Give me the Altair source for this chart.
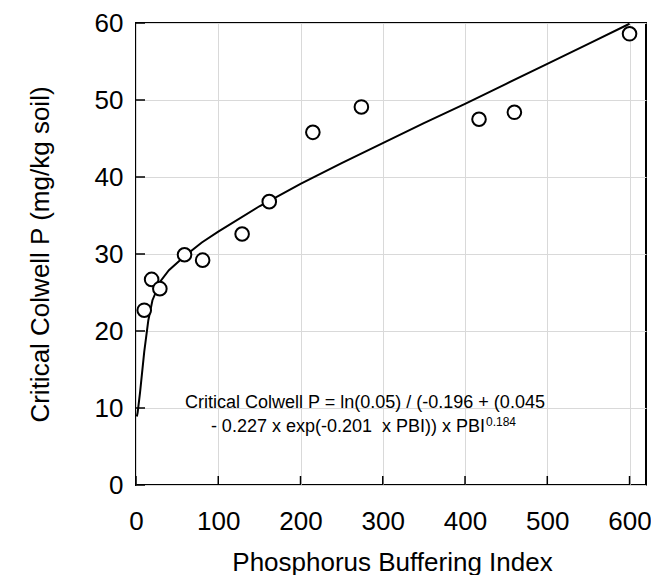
import altair as alt
import pandas as pd

# Observed data points (PBI vs critical Colwell P)
pbi = [10, 19, 29, 59, 81, 129, 162, 215, 274, 417, 460, 600]
colwell = [22.7, 26.7, 25.5, 29.9, 29.2, 32.6, 36.8, 45.8, 49.1, 47.5, 48.4, 58.6]

# Fitted curve
curve_pbi = [1, 2, 5, 10, 15, 20, 30, 40, 60, 80, 100, 150, 200, 250, 300, 350, 400, 450, 500, 550, 600]
curve_p = [8.9, 9.4, 12.1, 17.3, 21.4, 24.0, 26.5, 27.9, 29.8, 31.5, 32.9, 36.2, 39.1, 41.8,
           44.4, 47.0, 49.5, 52.1, 54.7, 57.3, 59.9]

x_ticks = [0, 100, 200, 300, 400, 500, 600]
y_ticks = [0, 10, 20, 30, 40, 50, 60]

eq_line1 = ["Critical Colwell P = ln(0.05) / (-0.196 + (0.045"]
eq_line2 = ["- 0.227 x exp(-0.201\u00a0 x PBI)) x PBI"]
eq_sup = ["0.184"]

FONT = "Liberation Sans"

pts = pd.DataFrame({"x": pbi, "y": colwell})
crv = pd.DataFrame({"x": curve_pbi, "y": curve_p})
xt = pd.DataFrame({"x": x_ticks})
yt = pd.DataFrame({"y": y_ticks})

xs = alt.Scale(domain=[0, 620], nice=False)
ys = alt.Scale(domain=[0, 60], nice=False)

x_axis = alt.Axis(values=x_ticks, title="Phosphorus Buffering Index", grid=True,
                  gridColor="#d9d9d9", gridWidth=1, domain=False, ticks=False,
                  labelFont=FONT, labelFontSize=26, labelColor="black", labelPadding=23,
                  labelFlush=False, labelOverlap=False,
                  titleFont=FONT, titleFontSize=26, titleFontWeight="normal", titleColor="black",
                  titleX=256, titleY=77, titleBaseline="middle", titleAlign="center")
y_axis = alt.Axis(values=y_ticks, title="Critical Colwell P (mg/kg soil)", grid=True,
                  gridColor="#d9d9d9", gridWidth=1, domain=False, ticks=False,
                  labelFont=FONT, labelFontSize=26, labelColor="black", labelPadding=13,
                  labelOverlap=False,
                  titleFont=FONT, titleFontSize=26, titleFontWeight="normal", titleColor="black",
                  titleX=-96, titleY=231, titleAngle=270, titleBaseline="middle", titleAlign="center")

curve = alt.Chart(crv).mark_line(color="black", strokeWidth=2).encode(
    x=alt.X("x:Q", scale=xs, axis=x_axis),
    y=alt.Y("y:Q", scale=ys, axis=y_axis),
)

points = alt.Chart(pts).mark_point(shape="circle", filled=True, fill="white", stroke="black",
                                   strokeWidth=2, size=185, opacity=1).encode(
    x=alt.X("x:Q", scale=xs),
    y=alt.Y("y:Q", scale=ys),
)

xticks = alt.Chart(xt).mark_rule(color="black", strokeWidth=1.5).encode(
    x=alt.X("x:Q", scale=xs), y=alt.value(462), y2=alt.value(453)
)
yticks = alt.Chart(yt).mark_rule(color="black", strokeWidth=1.5).encode(
    y=alt.Y("y:Q", scale=ys), x=alt.value(0), x2=alt.value(9)
)

t1 = alt.Chart(pd.DataFrame({"t": eq_line1})).mark_text(
    font=FONT, fontSize=18, color="black", align="center", baseline="alphabetic"
).encode(text="t:N", x=alt.value(229), y=alt.value(385))

t2 = alt.Chart(pd.DataFrame({"t": eq_line2})).mark_text(
    font=FONT, fontSize=18, color="black", align="right", baseline="alphabetic"
).encode(text="t:N", x=alt.value(349), y=alt.value(409))

t3 = alt.Chart(pd.DataFrame({"t": eq_sup})).mark_text(
    font=FONT, fontSize=12, color="black", align="left", baseline="alphabetic"
).encode(text="t:N", x=alt.value(350), y=alt.value(403))

chart = alt.layer(curve, points, xticks, yticks, t1, t2, t3).properties(
    width=510, height=462,
    padding={"left": 128, "top": 15, "right": 5, "bottom": 90},
    autosize=alt.AutoSizeParams(type="none"),
).configure_view(stroke="black", strokeWidth=2)

chart.save("out.html", embed_options={"renderer": "svg", "actions": False})
